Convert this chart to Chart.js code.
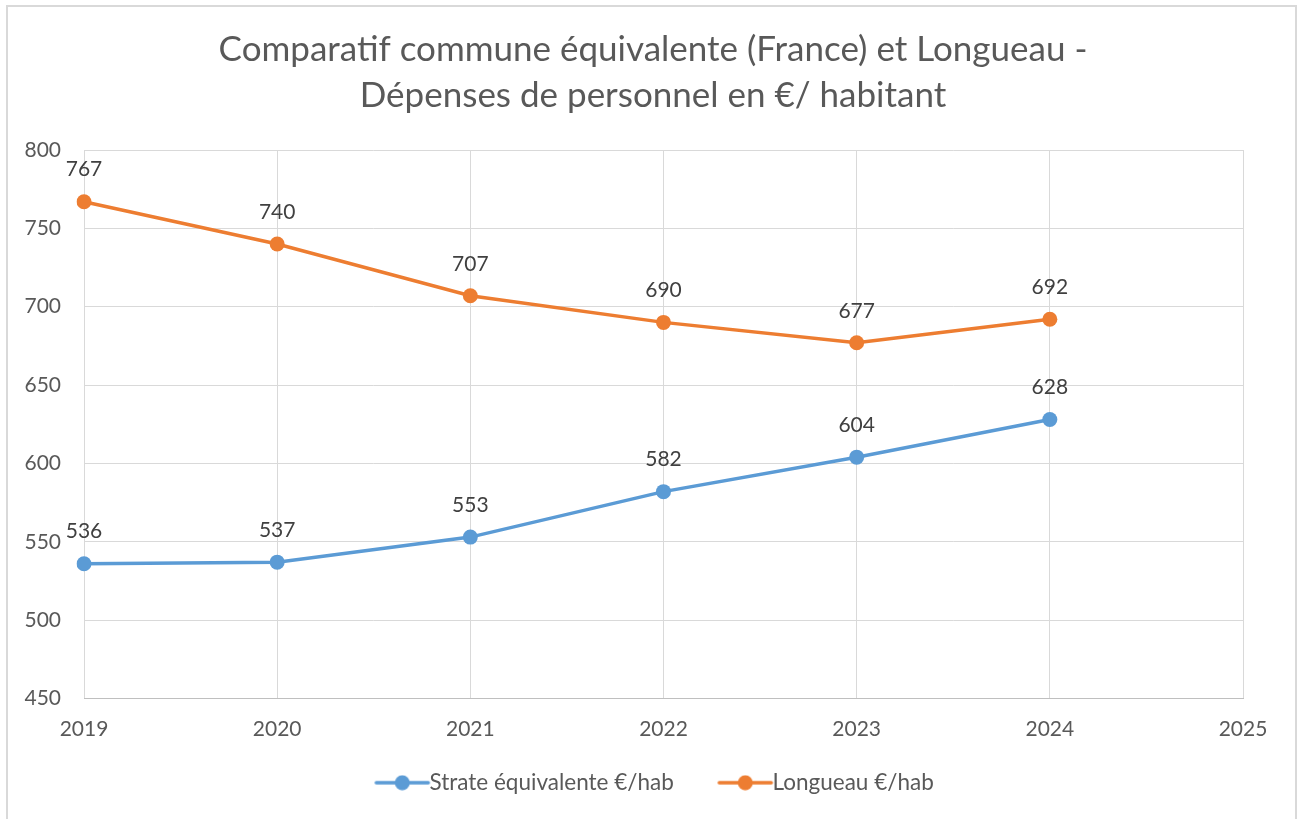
<!DOCTYPE html>
<html>
<head>
<meta charset="utf-8">
<script src="https://cdn.jsdelivr.net/npm/chart.js@4.4.1/dist/chart.umd.min.js"></script>
<style>
  html, body { margin: 0; padding: 0; background: #fff; }
  #wrap { width: 1299px; height: 819px; }
</style>
</head>
<body>
<div id="wrap"><canvas id="chart" width="1299" height="819"></canvas></div>
<script>
// données
const annees = ['2019', '2020', '2021', '2022', '2023', '2024', '2025'];
const strateValeurs = [536, 537, 553, 582, 604, 628];
const longueauValeurs = [767, 740, 707, 690, 677, 692];
const titreLignes = ['Comparatif commune équivalente (France) et Longueau -', 'Dépenses de personnel en €/ habitant'];

const BLEU = '#5B9BD5';
const ORANGE = '#ED7D31';
const POLICE = 'Lato, "Open Sans", sans-serif';

// petit symbole ligne + rond pour la légende (décalé pour coller au texte)
function symboleLegende(couleur) {
    const c = document.createElement('canvas');
    c.width = 80; c.height = 16;
    const ctx = c.getContext('2d');
    ctx.strokeStyle = couleur;
    ctx.lineWidth = 3.5;
    ctx.lineCap = 'round';
    ctx.beginPath();
    ctx.moveTo(21, 8); ctx.lineTo(73, 8);
    ctx.stroke();
    ctx.fillStyle = couleur;
    ctx.beginPath();
    ctx.arc(47, 8, 7.5, 0, Math.PI * 2);
    ctx.fill();
    return c;
}

// étiquettes de valeurs au-dessus des points
const etiquettes = {
    id: 'etiquettes',
    afterDatasetsDraw(chart) {
        const ctx = chart.ctx;
        ctx.save();
        ctx.font = '21px ' + POLICE;
        ctx.fillStyle = '#404040';
        ctx.textAlign = 'center';
        ctx.textBaseline = 'middle';
        chart.data.datasets.forEach((ds, i) => {
            chart.getDatasetMeta(i).data.forEach((pt, j) => {
                ctx.fillText(String(ds.data[j]), pt.x, pt.y - 32);
            });
        });
        ctx.restore();
    }
};

// cadre extérieur gris
const cadre = {
    id: 'cadre',
    beforeDraw(chart) {
        const ctx = chart.ctx;
        ctx.save();
        ctx.strokeStyle = '#d9d9d9';
        ctx.lineWidth = 2;
        ctx.strokeRect(7, 6, 1289, 900);
        ctx.restore();
    }
};

const ctx = document.getElementById('chart').getContext('2d');
const graphique = new Chart(ctx, {
    type: 'line',
    data: {
        labels: annees,
        datasets: [{
            label: 'Strate équivalente €/hab',
            data: strateValeurs,
            borderColor: BLEU,
            backgroundColor: BLEU,
            borderWidth: 3.5,
            pointRadius: 7.5,
            pointBorderWidth: 0,
            pointBackgroundColor: BLEU,
            tension: 0
        }, {
            label: 'Longueau €/hab',
            data: longueauValeurs,
            borderColor: ORANGE,
            backgroundColor: ORANGE,
            borderWidth: 3.5,
            pointRadius: 7.5,
            pointBorderWidth: 0,
            pointBackgroundColor: ORANGE,
            tension: 0
        }]
    },
    options: {
        responsive: false,
        animation: false,
        layout: { padding: { top: 0, left: 7, right: 0, bottom: 15 } },
        plugins: {
            title: {
                display: true,
                text: titreLignes,
                color: '#595959',
                font: { family: POLICE, size: 35, weight: 'normal', lineHeight: '46px' },
                padding: { top: 27, bottom: 31 }
            },
            legend: {
                position: 'bottom',
                labels: {
                    usePointStyle: true,
                    pointStyleWidth: 46,
                    padding: 30,
                    color: '#595959',
                    font: { family: POLICE, size: 22.5 },
                    generateLabels(chart) {
                        return chart.data.datasets.map((ds, i) => ({
                            // deux espaces en fin du premier libellé pour l'écart entre les entrées
                            text: i === 0 ? ds.label + '  ' : ds.label,
                            fillStyle: ds.borderColor,
                            strokeStyle: ds.borderColor,
                            fontColor: '#595959',
                            pointStyle: symboleLegende(ds.borderColor),
                            lineWidth: 0,
                            hidden: false,
                            datasetIndex: i
                        }));
                    }
                }
            },
            tooltip: { enabled: false }
        },
        scales: {
            x: {
                type: 'category',
                offset: false,
                grid: { color: '#d9d9d9', drawTicks: false, offset: false },
                border: { color: '#bfbfbf', width: 1 },
                ticks: {
                    color: '#595959',
                    font: { family: POLICE, size: 21 },
                    padding: 18,
                    maxRotation: 0,
                    autoSkip: false
                },
                afterFit(scale) { scale.height = 43; }
            },
            y: {
                min: 450,
                max: 800,
                grid: { color: '#d9d9d9', drawTicks: false },
                border: { display: false },
                ticks: {
                    stepSize: 50,
                    color: '#595959',
                    font: { family: POLICE, size: 21 },
                    padding: 23
                },
                afterFit(scale) { scale.width = 77; }
            },
            // axe vide à droite pour réserver la marge
            droite: {
                position: 'right',
                min: 450,
                max: 800,
                grid: { display: false },
                border: { display: false },
                ticks: { display: false },
                afterFit(scale) { scale.width = 56; }
            }
        }
    },
    plugins: [cadre, etiquettes]
});
</script>
</body>
</html>
